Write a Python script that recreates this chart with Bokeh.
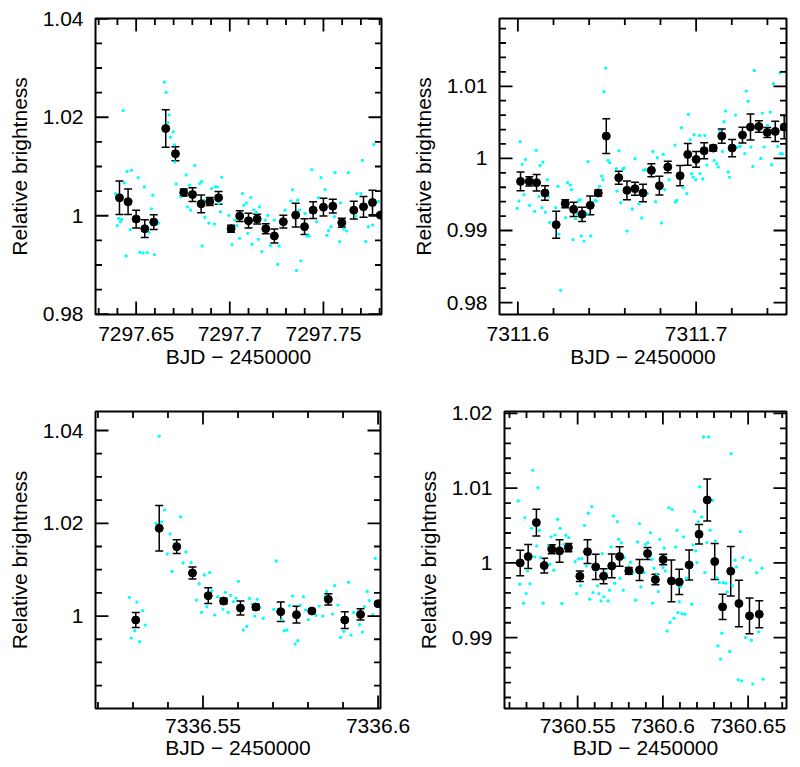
import math
from bokeh.plotting import figure
from bokeh.models import (ColumnDataSource, Range1d, SingleIntervalTicker,
                          CustomJSTickFormatter, Whisker, TeeHead)
from bokeh.layouts import row, column
from bokeh.embed import file_html
from bokeh.resources import INLINE

FONT = "Liberation Sans"
XLABEL = "BJD − 2450000"
YLABEL = "Relative brightness"

# ---------------- Panel 1 (BJD 7297) ----------------
bin1_x = [7297.6411, 7297.6457, 7297.6500, 7297.6546, 7297.6594, 7297.6658, 7297.6710, 7297.6754,
          7297.6801, 7297.6847, 7297.6893, 7297.6940, 7297.7007, 7297.7053, 7297.7100, 7297.7146,
          7297.7192, 7297.7238, 7297.7286, 7297.7352, 7297.7399, 7297.7445, 7297.7500, 7297.7550,
          7297.7598, 7297.7662, 7297.7714, 7297.7762, 7297.7804]
bin1_y = [1.00364, 1.00283, 0.99933, 0.99737, 0.99872, 1.01771, 1.01259, 1.00471, 1.00431, 1.00242,
          1.00290, 1.00364, 0.99737, 0.99993, 0.99899, 0.99933, 0.99737, 0.99589, 0.99879, 1.00013,
          0.99778, 1.00114, 1.00175, 1.00195, 0.99859, 1.00114, 1.00182, 1.00269, 1.00013]
bin1_err = [0.0034, 0.0026, 0.0018, 0.0018, 0.0015, 0.0038, 0.0014, 0.0007, 0.0014, 0.0018,
            0.0008, 0.0013, 0.0007, 0.0011, 0.0015, 0.0010, 0.0010, 0.0014, 0.0013, 0.0024,
            0.0016, 0.0017, 0.0018, 0.0014, 0.0009, 0.0018, 0.0021, 0.0025, 0.0003]
raw1_x = [7297.6390, 7297.6399, 7297.6407, 7297.6416, 7297.6422, 7297.6431, 7297.6438, 7297.6447, 7297.6452, 7297.6468,
          7297.6475, 7297.6488, 7297.6496, 7297.6511, 7297.6520, 7297.6537, 7297.6544, 7297.6559, 7297.6568, 7297.6582,
          7297.6589, 7297.6598, 7297.6609, 7297.6621, 7297.6651, 7297.6660, 7297.6676, 7297.6671, 7297.6683, 7297.6698,
          7297.6705, 7297.6706, 7297.6719, 7297.6714, 7297.6737, 7297.6767, 7297.6754, 7297.6774, 7297.6785, 7297.6790,
          7297.6813, 7297.6840, 7297.6849, 7297.6852, 7297.6861, 7297.6867, 7297.6888, 7297.6902, 7297.6918, 7297.6923,
          7297.6934, 7297.6941, 7297.6950, 7297.6957, 7297.6995, 7297.7002, 7297.7012, 7297.7027, 7297.7037, 7297.7052,
          7297.7068, 7297.7075, 7297.7089, 7297.7096, 7297.7112, 7297.7119, 7297.7128, 7297.7142, 7297.7158, 7297.7153,
          7297.7171, 7297.7189, 7297.7203, 7297.7217, 7297.7237, 7297.7256, 7297.7263, 7297.7295, 7297.7326, 7297.7335,
          7297.7340, 7297.7356, 7297.7363, 7297.7372, 7297.7379, 7297.7402, 7297.7411, 7297.7423, 7297.7438, 7297.7464,
          7297.7473, 7297.7487, 7297.7509, 7297.7518, 7297.7527, 7297.7541, 7297.7562, 7297.7559, 7297.7586, 7297.7592,
          7297.7608, 7297.7624, 7297.7633, 7297.7672, 7297.7679, 7297.7700, 7297.7708, 7297.7719, 7297.7726, 7297.7740,
          7297.7763, 7297.7769, 7297.7794]
raw1_y = [1.00451, 0.99798, 0.99946, 0.99879, 0.99926, 1.02135, 1.00667, 0.99185, 1.00902, 0.99717,
          1.00923, 0.99912, 0.99939, 1.00774, 0.99259, 0.99246, 1.00586, 0.99253, 0.99663, 1.00141,
          1.00418, 0.99212, 0.99845, 0.99852, 1.02714, 1.02505, 1.02047, 1.01892, 1.01596, 1.01704,
          1.01441, 1.01091, 1.01293, 1.00646, 1.00384, 1.00828, 1.00512, 1.00182, 1.00620, 1.00114,
          1.01024, 1.00653, 1.00700, 0.99387, 1.00316, 0.99966, 0.99852, 1.00552, 0.99832, 1.00586,
          1.00586, 1.00249, 1.00081, 1.00781, 1.00007, 0.99697, 0.99414, 0.99912, 0.99798, 0.99542,
          1.00451, 1.00215, 1.00263, 0.99643, 1.00370, 0.99421, 1.00121, 1.00067, 1.00182, 0.99522,
          0.99273, 0.99912, 1.00007, 0.99394, 0.99912, 0.99010, 0.99387, 1.00114, 1.00303, 1.00532,
          0.99980, 0.98889, 1.00316, 1.00114, 0.99084, 1.00047, 0.99589, 0.99589, 1.00936, 0.99879,
          1.00370, 1.00774, 1.00532, 0.99603, 0.99697, 0.99778, 1.00875, 0.99980, 0.99475, 1.00263,
          0.99731, 0.99690, 1.00875, 0.99993, 1.00451, 1.00451, 1.01125, 1.00215, 0.99475, 0.99778,
          0.99811, 1.01448, 1.00290]

# ---------------- Panel 2 (BJD 7311) ----------------
bin2_x = [7311.6015, 7311.6064, 7311.6105, 7311.6152, 7311.6215, 7311.6266, 7311.6313, 7311.6360,
          7311.6406, 7311.6451, 7311.6496, 7311.6566, 7311.6612, 7311.6657, 7311.6702, 7311.6749,
          7311.6794, 7311.6841, 7311.6910, 7311.6953, 7311.7000, 7311.7045, 7311.7096, 7311.7144,
          7311.7202, 7311.7260, 7311.7305, 7311.7352, 7311.7399, 7311.7444, 7311.7494]
bin2_y = [0.99681, 0.99681, 0.99663, 0.99520, 0.99081, 0.99372, 0.99293, 0.99224, 0.99349, 0.99520,
          1.00309, 0.99732, 0.99557, 0.99580, 0.99520, 0.99834, 0.99621, 0.99880, 0.99760, 1.00055,
          0.99986, 1.00106, 1.00143, 1.00309, 1.00143, 1.00323, 1.00434, 1.00443, 1.00360, 1.00374,
          1.00434]
bin2_err = [0.0013, 0.00065, 0.00115, 0.0010, 0.00187, 0.00055, 0.0010, 0.0010, 0.0013, 0.0004,
            0.0024, 0.0009, 0.0013, 0.0009, 0.0012, 0.0009, 0.0013, 0.0008, 0.0014, 0.0015,
            0.0011, 0.0011, 0.0004, 0.0010, 0.0012, 0.0011, 0.0018, 0.0008, 0.0007, 0.0014,
            0.0016]
raw2_x = [7311.6013, 7311.5996, 7311.6006, 7311.6024, 7311.6034, 7311.6043, 7311.6066, 7311.6094, 7311.6103, 7311.6118,
          7311.6125, 7311.6135, 7311.6140, 7311.6155, 7311.6165, 7311.6172, 7311.6178, 7311.6212, 7311.6225, 7311.6230,
          7311.6240, 7311.6268, 7311.6279, 7311.6294, 7311.6301, 7311.6309, 7311.6324, 7311.6331, 7311.6339, 7311.6350,
          7311.6356, 7311.6371, 7311.6388, 7311.6393, 7311.6408, 7311.6433, 7311.6440, 7311.6459, 7311.6470, 7311.6478,
          7311.6483, 7311.6493, 7311.6506, 7311.6515, 7311.6552, 7311.6556, 7311.6567, 7311.6577, 7311.6588, 7311.6596,
          7311.6612, 7311.6622, 7311.6642, 7311.6657, 7311.6680, 7311.6695, 7311.6706,
          7311.6715, 7311.6727, 7311.6757, 7311.6773, 7311.6783, 7311.6805, 7311.6816, 7311.6824, 7311.6848, 7311.6884,
          7311.6891, 7311.6882, 7311.6918, 7311.6927, 7311.6948, 7311.6957, 7311.6966, 7311.6974, 7311.6983, 7311.6989,
          7311.6998, 7311.7019, 7311.7022, 7311.7036, 7311.7049, 7311.7060, 7311.7090, 7311.7101, 7311.7116, 7311.7125,
          7311.7135, 7311.7148, 7311.7157, 7311.7165, 7311.7180, 7311.7187, 7311.7221, 7311.7232, 7311.7247, 7311.7273,
          7311.7281, 7311.7292, 7311.7307, 7311.7318, 7311.7326, 7311.7363, 7311.7371, 7311.7382, 7311.7401, 7311.7416,
          7311.7423, 7311.7434, 7311.7457, 7311.7472, 7311.7483, 7311.7470]
raw2_y = [1.00231, 0.99307, 0.99409, 0.99917, 0.99497, 0.99986, 0.99349, 0.99266, 1.00111, 0.99473,
          0.99903, 0.99316, 0.99949, 0.99252, 0.99704, 0.99473, 0.99113, 0.99316, 0.99612, 0.98947,
          0.98171, 0.99178, 0.99667, 0.99630, 0.99566, 0.98873, 0.99164, 0.99233, 0.99409, 0.99427,
          0.98924, 0.98854, 0.99233, 0.99954, 0.98924, 0.99418, 0.99409, 0.99612, 0.99755, 0.99704,
          1.00924, 1.01252, 0.99972, 0.99940, 0.99857, 0.99547, 1.00106, 0.99386, 0.99848, 0.99866,
          0.98993, 0.99524, 0.99298, 0.99995, 0.99372, 0.99173, 0.99834,
          0.99843, 0.99510, 1.00097, 0.99400, 1.00009, 0.99104, 1.00055, 0.99566, 0.99704, 0.99395,
          0.99418, 1.00185, 1.00425, 0.99594, 0.99510, 1.00610, 1.00259, 0.99788, 0.99741, 1.00328,
          0.99704, 1.00319, 0.99788, 0.99714, 1.00319, 0.99908, 1.00166, 0.99972, 0.99926, 0.99880,
          1.00374, 1.00097, 1.00508, 1.00656, 0.99811, 0.99741, 1.00600, 1.00157, 1.00166, 1.00065,
          1.00933, 1.00794, 1.00157, 0.99889, 1.01219, 1.00000, 1.00628, 1.00157, 1.00457, 1.00642,
          0.99912, 1.01035, 1.00166, 1.00065, 1.00065, 1.01187]

# ---------------- Panel 3 (BJD 7336) ----------------
bin3_x = [7336.5308, 7336.5375, 7336.5425, 7336.5470, 7336.5515, 7336.5559, 7336.5607, 7336.5651,
          7336.5722, 7336.5767, 7336.5811, 7336.5858, 7336.5905, 7336.5950, 7336.6000]
bin3_y = [0.99914, 1.01892, 1.01496, 1.00928, 1.00439, 1.00324, 1.00173, 1.00194,
          1.00094, 1.00029, 1.00108, 1.00360, 0.99914, 1.00036, 1.00266]
bin3_err = [0.0016, 0.0049, 0.0015, 0.0013, 0.0017, 0.0006, 0.0015, 0.0006,
            0.0021, 0.0018, 0.0003, 0.0012, 0.0018, 0.0012, 0.0004]
raw3_x = [7336.5290, 7336.5295, 7336.5305, 7336.5311, 7336.5319, 7336.5328, 7336.5335, 7336.5366, 7336.5375, 7336.5382,
          7336.5390, 7336.5398, 7336.5406, 7336.5412, 7336.5420, 7336.5436, 7336.5443, 7336.5451, 7336.5466, 7336.5481,
          7336.5489, 7336.5496, 7336.5504, 7336.5511, 7336.5519, 7336.5525, 7336.5533, 7336.5542, 7336.5557, 7336.5564,
          7336.5572, 7336.5579, 7336.5587, 7336.5594, 7336.5601,
          7336.5615, 7336.5625, 7336.5633, 7336.5641, 7336.5648, 7336.5655, 7336.5662, 7336.5672, 7336.5702, 7336.5709,
          7336.5725, 7336.5732, 7336.5740, 7336.5747, 7336.5756, 7336.5763, 7336.5771, 7336.5777, 7336.5787, 7336.5793,
          7336.5801, 7336.5823, 7336.5832, 7336.5842, 7336.5848, 7336.5853, 7336.5870, 7336.5876, 7336.5885, 7336.5893,
          7336.5902, 7336.5916, 7336.5923, 7336.5930, 7336.5947, 7336.5955, 7336.5961, 7336.5969, 7336.5975, 7336.5985,
          7336.5992]
raw3_y = [1.00403, 0.99525, 0.99683, 1.00302, 0.99446, 1.00115, 0.99806, 1.02000, 1.03878, 1.02029,
          1.02288, 1.01338, 1.01770, 1.00964, 1.01568, 1.02137, 1.01144, 1.01381, 1.01151, 1.00345,
          1.00698, 1.00079, 1.00885, 1.00201, 1.00935, 1.00540, 1.00022, 1.00417, 1.00151, 1.00511,
          1.00079, 1.00446, 1.00309, 1.00388, 1.00748,
          0.99698, 0.99777, 1.00381, 1.00259, 1.00000, 1.00360, 1.00187, 0.99950, 1.00144, 1.01187,
          0.99921, 0.99683, 0.99698, 1.00223, 1.00432, 0.99396, 0.99468, 1.00237, 1.00417, 1.00129,
          0.99921, 1.00014, 1.00216, 1.00000, 1.00417, 1.00532, 1.00043, 1.00655, 1.00237, 0.99540,
          0.99669, 1.00727, 0.99590, 1.00079, 0.99813, 0.99655, 1.00201, 1.00532, 1.00331, 1.00029,
          1.01245]

# ---------------- Panel 4 (BJD 7360) ----------------
bin4_x = [7360.5163, 7360.5210, 7360.5258, 7360.5304, 7360.5348, 7360.5394, 7360.5446, 7360.5513,
          7360.5558, 7360.5606, 7360.5652, 7360.5700, 7360.5746, 7360.5800, 7360.5863, 7360.5910,
          7360.5956, 7360.6002, 7360.6050, 7360.6096, 7360.6154, 7360.6212, 7360.6260, 7360.6304,
          7360.6350, 7360.6398, 7360.6446, 7360.6508, 7360.6565]
bin4_y = [1.00000, 1.00085, 1.00539, 0.99964, 1.00183, 1.00160, 1.00205, 0.99822, 1.00151, 0.99947,
          0.99822, 0.99960, 1.00085, 0.99893, 0.99906, 1.00125, 0.99777, 1.00045, 0.99759, 0.99746,
          0.99973, 1.00383, 1.00842, 1.00018, 0.99412, 0.99889, 0.99457, 0.99292, 0.99314]
bin4_err = [0.0017, 0.0016, 0.0018, 0.0010, 0.0006, 0.0015, 0.00055, 0.0007, 0.0016, 0.0017,
            0.0010, 0.0016, 0.0013, 0.00045, 0.0014, 0.0008, 0.0007, 0.0007, 0.0028, 0.0017,
            0.0020, 0.0013, 0.0028, 0.0024, 0.0017, 0.0033, 0.0031, 0.0024, 0.0018]
raw4_x = [7360.5152, 7360.5160, 7360.5183, 7360.5190, 7360.5198, 7360.5206, 7360.5221, 7360.5229, 7360.5237, 7360.5248,
          7360.5260, 7360.5267, 7360.5275, 7360.5283, 7360.5298, 7360.5329, 7360.5337, 7360.5344, 7360.5360, 7360.5367,
          7360.5383, 7360.5398, 7360.5408, 7360.5421, 7360.5431, 7360.5448, 7360.5456, 7360.5485, 7360.5494, 7360.5506,
          7360.5517, 7360.5525, 7360.5540, 7360.5552, 7360.5563, 7360.5571, 7360.5583, 7360.5590, 7360.5606, 7360.5617,
          7360.5625, 7360.5637, 7360.5644, 7360.5654, 7360.5667, 7360.5679, 7360.5687, 7360.5696, 7360.5710, 7360.5717,
          7360.5733, 7360.5740, 7360.5748, 7360.5756, 7360.5767, 7360.5775, 7360.5798, 7360.5810, 7360.5825, 7360.5840,
          7360.5852, 7360.5863, 7360.5871, 7360.5879, 7360.5890, 7360.5898,
          7360.5912, 7360.5927, 7360.5935, 7360.5940, 7360.5948, 7360.5965, 7360.5973, 7360.5981, 7360.6000, 7360.6008,
          7360.6015, 7360.6025, 7360.6035, 7360.6042, 7360.6054, 7360.6065, 7360.6075, 7360.6083, 7360.6088, 7360.6096,
          7360.6104, 7360.6112, 7360.6121, 7360.6129, 7360.6138, 7360.6169, 7360.6177, 7360.6185, 7360.6192, 7360.6200,
          7360.6208, 7360.6215, 7360.6227, 7360.6238, 7360.6246, 7360.6258, 7360.6269, 7360.6277, 7360.6292, 7360.6300,
          7360.6308, 7360.6317, 7360.6323, 7360.6331, 7360.6338, 7360.6346, 7360.6354, 7360.6369, 7360.6377, 7360.6392,
          7360.6400, 7360.6408, 7360.6423, 7360.6431, 7360.6442, 7360.6454, 7360.6462, 7360.6469, 7360.6485, 7360.6496,
          7360.6512, 7360.6519, 7360.6527, 7360.6550, 7360.6562, 7360.6569, 7360.6581, 7360.6588]
raw4_y = [1.00829, 0.99715, 0.99461, 1.00606, 0.99590, 0.99893, 0.99724, 1.00463, 1.01238, 1.00080,
          1.00227, 1.01007, 1.00437, 1.00071, 0.99461, 1.00227, 0.99982, 1.00347, 0.99902, 1.00374,
          1.00584, 1.00463, 0.99457, 1.00249, 1.00370, 1.00339, 1.00183, 1.00018, 0.99590, 1.00053,
          0.99697, 1.00058, 1.00503, 0.99960, 1.00664, 0.99514, 1.00753, 0.99604, 0.99902, 0.99693,
          0.99590, 0.99492, 1.00125, 0.99546, 0.99862, 0.99492, 0.99635, 1.00214, 1.00628, 0.99728,
          1.00552, 1.00316, 0.99795, 1.00272, 0.99635, 1.00071, 0.99947, 1.00009, 0.99871, 0.99501,
          1.00281, 1.00526, 0.99679, 0.99871, 0.99871, 1.00249,
          1.00272, 1.00405, 1.00049, 0.99461, 0.99929, 0.99840, 0.99617, 1.00316, 0.99938, 1.00196,
          0.99893, 0.99091, 1.00739, 0.99203, 1.00717, 0.99261, 1.00214, 1.00437, 0.99336, 0.99483,
          0.99679, 0.99323, 1.00347, 0.99314, 0.99795, 0.99448, 1.00241, 1.00686, 1.00160, 1.00004,
          1.00552, 1.01016, 1.00615, 1.01684, 0.99871, 1.00272, 1.01684, 1.00437, 1.00837, 1.00018,
          1.00294, 0.99800, 0.98890, 0.99737, 0.98713, 0.99060, 0.99737, 0.99728, 0.99612, 0.98815,
          1.01461, 0.99693, 1.00036, 0.99947, 0.98437, 1.00419, 0.98423, 1.00071, 0.99002, 0.99290,
          1.00036, 0.98966, 0.98379, 0.99871, 0.99078, 0.99290, 0.99929, 0.98445]


def fmt():
    return CustomJSTickFormatter(code="return Number(tick.toFixed(4)).toString();")


def tick_positions(start, end, step, nsub):
    """Major and minor tick values inside [start, end]."""
    sub = step / nsub
    k0 = math.ceil(start / sub - 1e-6)
    k1 = math.floor(end / sub + 1e-6)
    major, minor = [], []
    for k in range(k0, k1 + 1):
        v = k * sub
        (major if k % nsub == 0 else minor).append(v)
    return major, minor


def draw_ticks(p, xr, yr, xint, xsub, yint, ysub):
    # inward ticks on all four sides; a dash marker centred on the frame edge,
    # whose outer half is clipped away by the frame
    xmaj, xmin = tick_positions(xr[0], xr[1], xint, xsub)
    ymaj, ymin = tick_positions(yr[0], yr[1], yint, ysub)
    for vals, size in ((xmaj, 26), (xmin, 13)):
        for edge in (yr[0], yr[1]):
            p.scatter(vals, [edge] * len(vals), marker="dash", angle=math.pi / 2,
                      size=size, line_color="black", line_width=1.8)
    for vals, size in ((ymaj, 26), (ymin, 13)):
        for edge in (xr[0], xr[1]):
            p.scatter([edge] * len(vals), vals, marker="dash", angle=0,
                      size=size, line_color="black", line_width=1.8)


def make_panel(bx, by, be, rx, ry, xr, yr, xint, yint, ysub, size, borders, xstand, xlabstand):
    w, h = size
    bl, br, bt, bb = borders
    p = figure(width=w, height=h, x_range=Range1d(*xr), y_range=Range1d(*yr),
               output_backend="svg", toolbar_location=None,
               min_border_left=bl, min_border_right=br, min_border_top=bt, min_border_bottom=bb,
               x_axis_label=XLABEL, y_axis_label=YLABEL,
               background_fill_color="white", border_fill_color="white")
    p.grid.visible = False
    p.outline_line_color = "black"
    p.outline_line_width = 2

    p.xaxis.ticker = SingleIntervalTicker(interval=xint, num_minor_ticks=5)
    p.yaxis.ticker = SingleIntervalTicker(interval=yint, num_minor_ticks=ysub)
    for ax in (p.xaxis[0], p.yaxis[0]):
        ax.formatter = fmt()
        ax.axis_line_color = None
        ax.major_tick_line_color = None
        ax.minor_tick_line_color = None
        ax.major_tick_in = 0
        ax.major_tick_out = 0
        ax.minor_tick_in = 0
        ax.minor_tick_out = 0
        ax.major_label_text_font = FONT
        ax.major_label_text_color = "black"
        ax.major_label_text_font_size = "21px"
        ax.axis_label_text_font = FONT
        ax.axis_label_text_font_style = "normal"
        ax.axis_label_text_color = "black"
        ax.axis_label_text_font_size = "21px"

    p.xaxis.major_label_standoff = xstand
    p.xaxis.axis_label_standoff = xlabstand
    p.yaxis.major_label_standoff = 12
    p.yaxis.axis_label_standoff = 9

    p.scatter(rx, ry, size=3.3, marker="circle", color="#00FFFF", line_color=None)

    upper = [y + e for y, e in zip(by, be)]
    lower = [y - e for y, e in zip(by, be)]
    src = ColumnDataSource(data=dict(x=bx, y=by, upper=upper, lower=lower))
    wh = Whisker(source=src, base="x", upper="upper", lower="lower", dimension="height",
                 line_color="black", line_width=1.5,
                 upper_head=TeeHead(size=8, line_color="black", line_width=1.5),
                 lower_head=TeeHead(size=8, line_color="black", line_width=1.5))
    p.add_layout(wh)
    p.scatter("x", "y", source=src, size=8, marker="circle", color="black")

    draw_ticks(p, xr, yr, xint, 5, yint, ysub)
    return p


p1 = make_panel(bin1_x, bin1_y, bin1_err, raw1_x, raw1_y,
                (7297.6283, 7297.7810), (0.97995, 1.04005), 0.05, 0.02, 4,
                (404, 391), (95, 23, 18, 77), 12, 1)
p2 = make_panel(bin2_x, bin2_y, bin2_err, raw2_x, raw2_y,
                (7311.5897, 7311.7507), (0.97835, 1.0194), 0.1, 0.01, 5,
                (395, 391), (95, 13, 18, 77), 12, 1)
p3 = make_panel(bin3_x, bin3_y, bin3_err, raw3_x, raw3_y,
                (7336.5193, 7336.6007), (0.98007, 1.0441), 0.05, 0.02, 4,
                (413, 375), (95, 33, 20, 58), 10, 0)
p4 = make_panel(bin4_x, bin4_y, bin4_err, raw4_x, raw4_y,
                (7360.5071, 7360.6725), (0.98053, 1.02025), 0.05, 0.01, 5,
                (386, 375), (86, 13, 20, 58), 10, 0)

layout = column(row(p1, p2), row(p3, p4))
open("out.html", "w", encoding="utf-8").write(file_html(layout, INLINE))
